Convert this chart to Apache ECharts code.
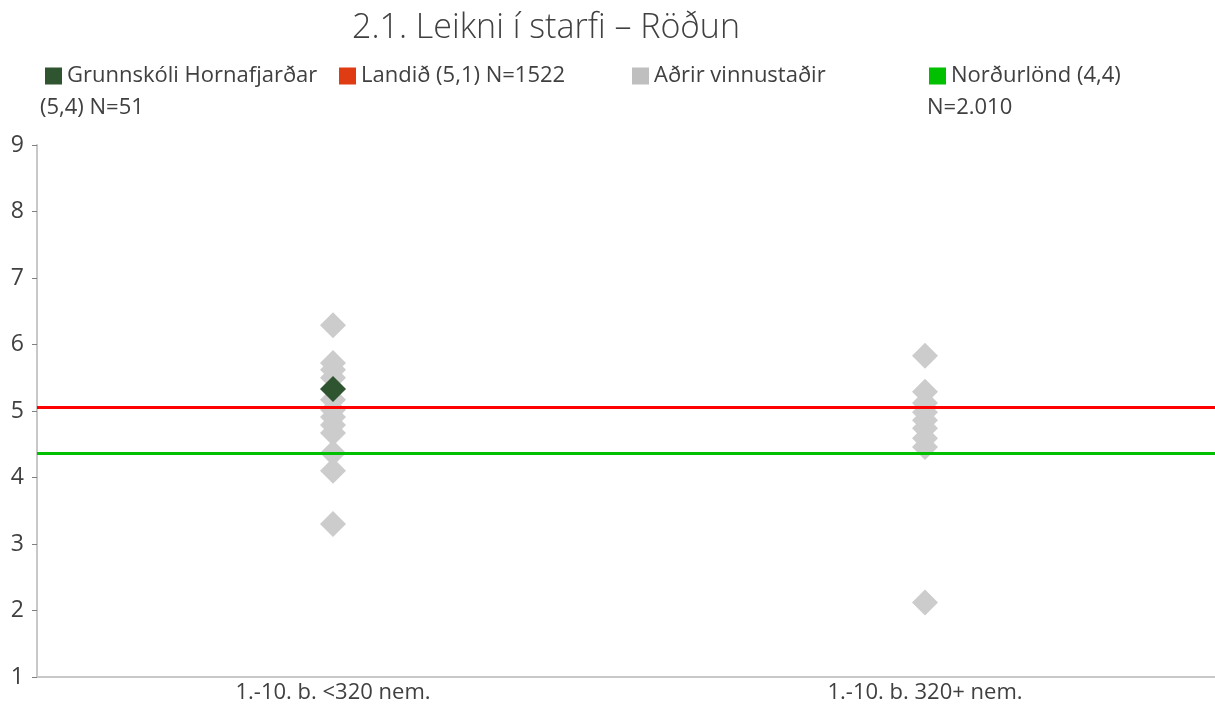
<!DOCTYPE html>
<html>
<head>
<meta charset="utf-8">
<script src="https://cdn.jsdelivr.net/npm/echarts@6/dist/echarts.min.js"></script>
<style>
  html, body { margin: 0; padding: 0; background: #fff; }
  #chart { width: 1215px; height: 708px; }
</style>
</head>
<body>
<div id="chart"></div>
<script>
var categories = ['1.-10. b. <320 nem.', '1.-10. b. 320+ nem.'];
var othersSmall = [6.29, 5.72, 5.62, 5.5, 5.17, 5.02, 4.91, 4.79, 4.67, 4.37, 4.1, 3.3];
var othersLarge = [5.83, 5.29, 5.12, 4.98, 4.86, 4.74, 4.59, 4.46, 2.12];
var schoolValue = [5.33, null];
var landValue = 5.05;
var nordicValue = 4.37;
var yTicks = [1, 2, 3, 4, 5, 6, 7, 8, 9];

var FONT = 'Open Sans';

function buildOthers() {
    var out = [];
    othersSmall.forEach(function (v) { out.push([0, v]); });
    othersLarge.forEach(function (v) { out.push([1, v]); });
    return out;
}

function legendAt(left, name, color) {
    return {
        left: left,
        top: 65,
        data: [{ name: name, itemStyle: { color: color, opacity: 1 } }],
        icon: 'rect',
        itemWidth: 17,
        itemHeight: 17,
        itemGap: 0,
        padding: 0,
        textStyle: { fontFamily: FONT, fontSize: 22, color: '#404040', padding: [0, 0, 0, 0] },
        formatter: function (n) { return n.split('|')[0]; },
        selectedMode: false
    };
}

var chart = echarts.init(document.getElementById('chart'));

chart.setOption({
    animation: false,
    title: {
        text: '2.1. Leikni í starfi – Röðun',
        left: 541,
        textAlign: 'center',
        top: 6,
        textStyle: { fontFamily: FONT, fontSize: 34, fontWeight: 300, color: '#404040' }
    },
    legend: [
        legendAt(45, 'Grunnskóli Hornafjarðar|(5,4) N=51', '#2F5530'),
        legendAt(339, 'Landið (5,1) N=1522', '#E03C14'),
        legendAt(632, 'Aðrir vinnustaðir', '#BFBFBF'),
        legendAt(929, 'Norðurlönd (4,4)|N=2.010', '#00C000')
    ],
    graphic: [
        { type: 'text', left: 40, top: 97, style: { text: '(5,4) N=51', font: '22px "' + FONT + '"', fill: '#404040' } },
        { type: 'text', left: 927, top: 97, style: { text: 'N=2.010', font: '22px "' + FONT + '"', fill: '#404040' } }
    ],
    grid: { left: 37, width: 1184, top: 145, bottom: 31, outerBoundsMode: 'none' },
    xAxis: {
        type: 'category',
        data: categories,
        boundaryGap: true,
        axisLine: { lineStyle: { color: '#C8C8C8', width: 2 } },
        axisTick: { show: false },
        axisLabel: { fontFamily: FONT, fontSize: 22, color: '#404040', margin: 5 }
    },
    yAxis: {
        type: 'value',
        min: yTicks[0],
        max: yTicks[yTicks.length - 1],
        interval: 1,
        splitLine: { show: false },
        axisLine: { show: true, lineStyle: { color: '#C8C8C8', width: 2 } },
        axisTick: { show: true, inside: false, length: 5, lineStyle: { color: '#808080', width: 1 } },
        axisLabel: { fontFamily: FONT, fontSize: 23, color: '#404040', margin: 13 }
    },
    series: [
        {
            name: 'Aðrir vinnustaðir',
            type: 'scatter',
            symbol: 'diamond',
            symbolSize: 26,
            itemStyle: { color: '#CCCCCC', opacity: 1 },
            data: buildOthers(),
            z: 2
        },
        {
            name: 'Landið (5,1) N=1522',
            type: 'scatter',
            data: [],
            itemStyle: { color: '#E03C14', opacity: 1 },
            markLine: {
                silent: true,
                symbol: 'none',
                label: { show: false },
                lineStyle: { color: '#FF0000', width: 3, type: 'solid', opacity: 1 },
                data: [{ yAxis: landValue }]
            },
            z: 1
        },
        {
            name: 'Norðurlönd (4,4)|N=2.010',
            type: 'scatter',
            data: [],
            itemStyle: { color: '#00C000', opacity: 1 },
            markLine: {
                silent: true,
                symbol: 'none',
                label: { show: false },
                lineStyle: { color: '#00C000', width: 3, type: 'solid', opacity: 1 },
                data: [{ yAxis: nordicValue }]
            },
            z: 1
        },
        {
            name: 'Grunnskóli Hornafjarðar|(5,4) N=51',
            type: 'scatter',
            symbol: 'diamond',
            symbolSize: 26,
            itemStyle: { color: '#2F5530', opacity: 1 },
            data: schoolValue,
            z: 3
        }
    ]
});
</script>
</body>
</html>
